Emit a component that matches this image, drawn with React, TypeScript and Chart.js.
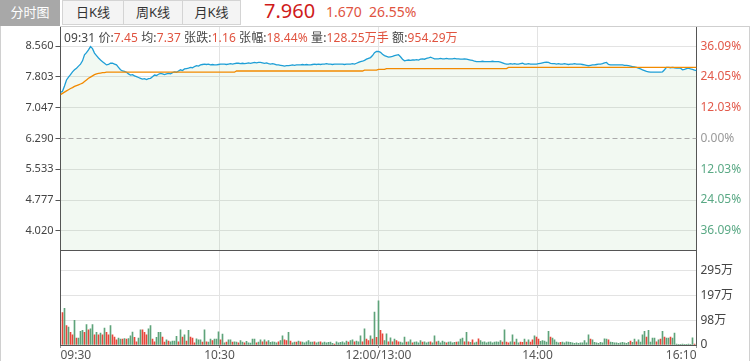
import React, { useEffect, useRef } from "react";
import { Chart, registerables } from "chart.js";

Chart.register(...registerables);

// ---------- data ----------
const PREV_CLOSE = 6.29;
const PRICE_MIN = 3.548;
const PRICE_MAX = 9.032;
const PRICE_TICKS = [4.02, 4.777, 5.533, 6.29, 7.047, 7.803, 8.56];
const PCT_LABELS = ["36.09%", "24.05%", "12.03%", "0.00%", "12.03%", "24.05%", "36.09%"];
const PCT_SIDE = ["down", "down", "down", "flat", "up", "up", "up"];
const TIME_LABELS = ["09:30", "10:30", "12:00/13:00", "14:00", "16:10"];
const VOL_TICKS = [0, 98.3, 196.6, 294.9];
const VOL_LABELS = ["0", "98万", "197万", "295万"];
const VOL_MAX = 372;

const PRICE = [
  7.42, 7.45, 7.58, 7.73, 7.8, 7.86, 7.93, 7.98, 8.02, 8.07, 8.12, 8.2, 8.35, 8.4, 8.47, 8.55, 8.5, 8.39, 8.33, 8.27,
  8.22, 8.18, 8.14, 8.1, 8.11, 8.14, 8.14, 8.12, 8.1, 8.04, 7.98, 7.95, 7.94, 7.92, 7.88, 7.85, 7.86, 7.83, 7.81, 7.79,
  7.77, 7.75, 7.76, 7.74, 7.76, 7.77, 7.81, 7.85, 7.84, 7.87, 7.89, 7.88, 7.86, 7.88, 7.89, 7.88, 7.91, 7.93, 7.92, 7.95,
  7.98, 7.96, 8.0, 8.01, 8.02, 8.04, 8.03, 8.06, 8.08, 8.07, 8.1, 8.11, 8.12, 8.11, 8.12, 8.1, 8.11, 8.1, 8.1, 8.11,
  8.12, 8.12, 8.12, 8.11, 8.12, 8.13, 8.12, 8.13, 8.14, 8.14, 8.13, 8.14, 8.13, 8.14, 8.15, 8.14, 8.15, 8.16, 8.15, 8.16,
  8.16, 8.15, 8.14, 8.15, 8.13, 8.12, 8.13, 8.12, 8.1, 8.1, 8.09, 8.08, 8.07, 8.08, 8.08, 8.09, 8.1, 8.09, 8.1, 8.1,
  8.1, 8.11, 8.1, 8.11, 8.1, 8.1, 8.11, 8.12, 8.11, 8.12, 8.11, 8.12, 8.12, 8.13, 8.12, 8.12, 8.11, 8.12, 8.12, 8.12,
  8.12, 8.12, 8.11, 8.12, 8.12, 8.12, 8.13, 8.12, 8.14, 8.16, 8.18, 8.19, 8.21, 8.24, 8.26, 8.28, 8.33, 8.4, 8.43, 8.43,
  8.41, 8.36, 8.33, 8.31, 8.29, 8.3, 8.31, 8.33, 8.34, 8.35, 8.3, 8.24, 8.2, 8.21, 8.22, 8.21, 8.22, 8.22, 8.23, 8.22,
  8.24, 8.25, 8.24, 8.26, 8.27, 8.29, 8.27, 8.25, 8.25, 8.25, 8.26, 8.25, 8.25, 8.26, 8.25, 8.25, 8.25, 8.26, 8.25, 8.25,
  8.24, 8.24, 8.25, 8.24, 8.23, 8.22, 8.21, 8.19, 8.18, 8.18, 8.18, 8.19, 8.18, 8.18, 8.18, 8.18, 8.19, 8.18, 8.18, 8.18,
  8.17, 8.15, 8.13, 8.12, 8.12, 8.13, 8.12, 8.13, 8.12, 8.12, 8.13, 8.14, 8.12, 8.12, 8.13, 8.12, 8.12, 8.12, 8.12, 8.13,
  8.14, 8.15, 8.16, 8.17, 8.16, 8.14, 8.13, 8.13, 8.12, 8.13, 8.12, 8.12, 8.13, 8.12, 8.11, 8.12, 8.12, 8.13, 8.12, 8.12,
  8.12, 8.11, 8.1, 8.09, 8.08, 8.09, 8.1, 8.1, 8.11, 8.12, 8.12, 8.13, 8.15, 8.16, 8.11, 8.1, 8.1, 8.1, 8.1, 8.1,
  8.1, 8.1, 8.09, 8.09, 8.08, 8.07, 8.06, 8.05, 8.04, 8.02, 8.0, 7.98, 7.96, 7.94, 7.93, 7.92, 7.92, 7.92, 7.92, 7.92,
  7.92, 7.93, 7.98, 8.04, 8.04, 8.03, 8.04, 8.03, 8.02, 8.03, 8.02, 7.98, 7.99, 8.01, 8.02, 8.0, 7.99, 7.97, 7.96,
];

const AVG = [
  7.37, 7.4, 7.43, 7.46, 7.49, 7.52, 7.54, 7.57, 7.59, 7.61, 7.63, 7.65, 7.69, 7.73, 7.77, 7.8, 7.83, 7.86, 7.88, 7.89,
  7.9, 7.91, 7.91, 7.92, 7.92, 7.92, 7.92, 7.92, 7.92, 7.92, 7.92, 7.92, 7.92, 7.92, 7.92, 7.92, 7.92, 7.92, 7.92, 7.92,
  7.92, 7.92, 7.92, 7.92, 7.92, 7.92, 7.92, 7.92, 7.92, 7.92, 7.92, 7.92, 7.92, 7.92, 7.92, 7.92, 7.92, 7.92, 7.92, 7.92,
  7.92, 7.92, 7.92, 7.92, 7.92, 7.92, 7.92, 7.92, 7.92, 7.92, 7.92, 7.92, 7.92, 7.92, 7.92, 7.92, 7.92, 7.92, 7.92, 7.92,
  7.92, 7.92, 7.92, 7.92, 7.92, 7.92, 7.92, 7.92, 7.95, 7.95, 7.95, 7.95, 7.95, 7.95, 7.95, 7.95, 7.95, 7.95, 7.95, 7.95,
  7.95, 7.95, 7.95, 7.95, 7.95, 7.95, 7.95, 7.95, 7.95, 7.95, 7.95, 7.95, 7.95, 7.95, 7.95, 7.95, 7.95, 7.95, 7.95, 7.95,
  7.95, 7.95, 7.95, 7.95, 7.95, 7.95, 7.95, 7.95, 7.95, 7.95, 7.95, 7.95, 7.95, 7.95, 7.95, 7.95, 7.95, 7.95, 7.95, 7.95,
  7.95, 7.95, 7.95, 7.95, 7.95, 7.95, 7.95, 7.95, 7.95, 7.95, 7.95, 7.95, 7.97, 7.97, 7.97, 7.97, 7.97, 7.97, 7.97, 7.99,
  7.99, 7.99, 7.99, 8.01, 8.01, 8.01, 8.01, 8.01, 8.01, 8.01, 8.01, 8.01, 8.01, 8.01, 8.01, 8.01, 8.01, 8.01, 8.01, 8.01,
  8.01, 8.01, 8.01, 8.01, 8.01, 8.01, 8.01, 8.01, 8.01, 8.01, 8.01, 8.01, 8.01, 8.01, 8.01, 8.01, 8.01, 8.01, 8.01, 8.01,
  8.01, 8.01, 8.01, 8.01, 8.01, 8.01, 8.01, 8.01, 8.01, 8.01, 8.01, 8.01, 8.01, 8.01, 8.01, 8.01, 8.01, 8.01, 8.01, 8.01,
  8.01, 8.01, 8.01, 8.01, 8.04, 8.04, 8.04, 8.04, 8.04, 8.04, 8.04, 8.04, 8.04, 8.04, 8.04, 8.04, 8.04, 8.04, 8.04, 8.04,
  8.04, 8.04, 8.04, 8.04, 8.04, 8.04, 8.04, 8.04, 8.04, 8.04, 8.04, 8.04, 8.04, 8.04, 8.04, 8.04, 8.04, 8.04, 8.04, 8.04,
  8.04, 8.04, 8.04, 8.04, 8.04, 8.04, 8.04, 8.04, 8.04, 8.04, 8.04, 8.04, 8.04, 8.04, 8.04, 8.04, 8.04, 8.04, 8.04, 8.04,
  8.04, 8.04, 8.04, 8.04, 8.04, 8.04, 8.04, 8.04, 8.04, 8.04, 8.04, 8.04, 8.04, 8.04, 8.04, 8.04, 8.04, 8.04, 8.04, 8.04,
  8.04, 8.04, 8.04, 8.04, 8.04, 8.04, 8.04, 8.04, 8.04, 8.04, 8.04, 8.04, 8.04, 8.04, 8.04, 8.04, 8.04, 8.04, 8.04,
];

// volume in 万
const VOLUME = [
  0, 128, 145, 77, 71, 50, 40, 98, 27, 27, 54, 58, 50, 81, 60, 64, 81, 40, 50, 40,
  47, 40, 67, 50, 40, 77, 40, 31, 20, 27, 23, 23, 25, 23, 25, 36, 51, 30, 13, 27,
  60, 60, 50, 40, 64, 77, 23, 13, 30, 50, 50, 31, 12, 20, 16, 13, 16, 16, 34, 13,
  60, 31, 40, 16, 58, 31, 27, 9, 24, 20, 20, 12, 60, 13, 12, 23, 17, 23, 23, 52,
  20, 43, 9, 12, 20, 20, 12, 13, 12, 9, 17, 12, 9, 15, 9, 8, 23, 23, 9, 12,
  20, 13, 20, 13, 17, 11, 13, 12, 9, 13, 17, 36, 20, 17, 50, 16, 9, 12, 12, 16,
  13, 12, 9, 13, 17, 12, 12, 13, 9, 12, 13, 9, 12, 9, 11, 12, 7, 4, 13, 9,
  11, 13, 9, 16, 12, 17, 20, 13, 16, 13, 36, 13, 64, 23, 17, 36, 23, 130, 30, 175,
  58, 44, 17, 44, 13, 28, 13, 23, 17, 13, 12, 9, 31, 12, 13, 20, 9, 12, 13, 9,
  17, 12, 13, 9, 12, 13, 9, 36, 13, 16, 9, 16, 12, 9, 12, 13, 9, 11, 12, 13,
  23, 27, 13, 50, 13, 11, 20, 9, 12, 24, 17, 12, 13, 9, 12, 13, 9, 12, 13, 12,
  17, 12, 60, 12, 9, 13, 40, 12, 23, 9, 12, 11, 23, 12, 20, 12, 20, 36, 31, 23,
  15, 17, 16, 12, 54, 31, 27, 20, 12, 9, 11, 12, 9, 13, 12, 11, 9, 7, 9, 7,
  9, 9, 17, 9, 40, 23, 20, 11, 9, 7, 11, 9, 24, 23, 20, 12, 11, 9, 9, 7,
  9, 11, 9, 7, 11, 16, 11, 23, 13, 20, 12, 40, 54, 31, 58, 12, 27, 27, 13, 20,
  23, 54, 31, 27, 27, 31, 27, 47, 4, 3, 3, 4, 3, 3, 4, 3, 28, 4, 3,
];

// r = up (red), g = down (green)
const VOL_SIDE = (
  "grgrgrrgrgggrgrggrgr" +
  "grgrrgrrrggrgrgggrrg" +
  "grrrggrrgggrrgrggggr" +
  "grgrgrrrgggrgrggrggg" +
  "rggrggrggrggrgggggrg" +
  "grgrgggggrggrrgrggrg" +
  "rggggggrggrggggggrgg" +
  "ggggrggrgggrgrrgrgrg" +
  "rrggrgrgrrgggrggrggg" +
  "grgggrggrggggrggggrg" +
  "ggrgrgrggrgggggggggg" +
  "grgrrggrggrrgrgrrgrr" +
  "gggggrggggrggggggggg" +
  "gggggrggggggggrggggg" +
  "gggggrggrggggrggggrg" +
  "rgrggrgggggggggggrg"
).split("");

// ---------- styles ----------
const FONT = "'Noto Sans', 'Noto Sans CJK SC', sans-serif";
const AXIS_DARK = "#555555";
const GRID = "#e3e3e3";
const RED_BAR = "#e8453a";
const GREEN_BAR = "#5ea37a";
const PRICE_COLOR = "#1f9fd6";
const AVG_COLOR = "#f28a00";

export default function App() {
  const priceRef = useRef<HTMLCanvasElement | null>(null);
  const volRef = useRef<HTMLCanvasElement | null>(null);

  useEffect(() => {
    const n = PRICE.length;
    const xMax = n - 1;
    const lastT = TIME_LABELS.length - 1;
    const timeTicks = () => TIME_LABELS.map((_, k) => ({ value: (k * xMax) / lastT }));
    const xGridColor = (c: any) => (c.index === 0 || c.index === lastT ? "rgba(0,0,0,0)" : GRID);

    const priceChart = new Chart(priceRef.current as HTMLCanvasElement, {
      type: "line",
      data: {
        datasets: [
          {
            label: "prev",
            data: [
              { x: 0, y: PREV_CLOSE },
              { x: xMax, y: PREV_CLOSE },
            ],
            borderColor: "#aaaaaa",
            borderWidth: 1,
            borderDash: [5, 3],
            pointRadius: 0,
            fill: false,
            order: -1,
          },
          {
            label: "avg",
            data: AVG.map((v, i) => ({ x: i, y: v })),
            borderColor: AVG_COLOR,
            borderWidth: 1.3,
            pointRadius: 0,
            fill: false,
            order: 0,
          },
          {
            label: "price",
            data: PRICE.map((v, i) => ({ x: i, y: v })),
            borderColor: PRICE_COLOR,
            borderWidth: 1.3,
            pointRadius: 0,
            fill: "start",
            backgroundColor: "rgba(110,185,110,0.09)",
            order: 1,
          },
        ],
      },
      options: {
        responsive: false,
        animation: false,
        devicePixelRatio: 1,
        events: [],
        layout: { padding: { top: 27, bottom: 111, left: 0, right: 0 } },
        plugins: { legend: { display: false }, tooltip: { enabled: false } },
        scales: {
          x: {
            type: "linear",
            min: 0,
            max: xMax,
            offset: false,
            afterBuildTicks: (s: any) => {
              s.ticks = timeTicks();
            },
            afterFit: (s: any) => {
              s.height = 0;
            },
            ticks: { display: false },
            grid: { color: xGridColor, drawTicks: false },
            border: { color: AXIS_DARK },
          },
          y: {
            type: "linear",
            position: "left",
            min: PRICE_MIN,
            max: PRICE_MAX,
            afterBuildTicks: (s: any) => {
              s.ticks = PRICE_TICKS.map((v) => ({ value: v }));
            },
            afterFit: (s: any) => {
              s.width = 60.5;
            },
            ticks: {
              autoSkip: false,
              callback: (v: any) => Number(v).toFixed(3),
              color: "#444444",
              font: { family: FONT, size: 11 },
              padding: 2,
            },
            grid: {
              color: (c: any) =>
                c.tick && Math.abs(c.tick.value - PREV_CLOSE) < 1e-6 ? "rgba(0,0,0,0)" : GRID,
              tickColor: AXIS_DARK,
              tickLength: 5,
            },
            border: { color: AXIS_DARK },
          },
          yr: {
            type: "linear",
            position: "right",
            min: PRICE_MIN,
            max: PRICE_MAX,
            afterBuildTicks: (s: any) => {
              s.ticks = PRICE_TICKS.map((v) => ({ value: v }));
            },
            afterFit: (s: any) => {
              s.width = 54.5;
            },
            ticks: {
              autoSkip: false,
              callback: (_v: any, i: number) => PCT_LABELS[i],
              color: (c: any) => {
                const side = PCT_SIDE[c.index];
                return side === "up" ? "#e2594a" : side === "down" ? "#5aa985" : "#999999";
              },
              font: { family: FONT, size: 12 },
              padding: 4,
            },
            grid: { drawOnChartArea: false, drawTicks: false },
            border: { color: AXIS_DARK },
          },
        },
      },
    } as any);

    const volChart = new Chart(volRef.current as HTMLCanvasElement, {
      type: "bar",
      data: {
        datasets: [
          {
            label: "vol",
            data: VOLUME.map((v, i) => ({ x: i, y: v })),
            backgroundColor: VOLUME.map((_, i) => (VOL_SIDE[i] === "r" ? RED_BAR : GREEN_BAR)),
            borderWidth: 0,
            barThickness: 1,
            xAxisID: "x",
            yAxisID: "yv",
          },
        ],
      },
      options: {
        responsive: false,
        animation: false,
        devicePixelRatio: 1,
        events: [],
        layout: { padding: { top: 251, bottom: 0, left: 0, right: 0 } },
        plugins: { legend: { display: false }, tooltip: { enabled: false } },
        scales: {
          x: {
            type: "linear",
            min: 0,
            max: xMax,
            offset: false,
            afterBuildTicks: (s: any) => {
              s.ticks = timeTicks();
            },
            afterFit: (s: any) => {
              s.height = 16;
            },
            ticks: {
              autoSkip: false,
              maxRotation: 0,
              minRotation: 0,
              align: "inner",
              callback: (_v: any, i: number) => TIME_LABELS[i],
              color: "#555555",
              font: { family: FONT, size: 12 },
              padding: 0,
            },
            grid: { offset: false, color: xGridColor, tickColor: "#999999", tickLength: 3 },
            border: { color: AXIS_DARK },
          },
          yl: {
            type: "linear",
            position: "left",
            min: 0,
            max: VOL_MAX,
            afterFit: (s: any) => {
              s.width = 60.5;
            },
            ticks: { display: false },
            grid: { drawOnChartArea: false, drawTicks: false },
            border: { color: AXIS_DARK },
          },
          yv: {
            type: "linear",
            position: "right",
            min: 0,
            max: VOL_MAX,
            afterBuildTicks: (s: any) => {
              s.ticks = VOL_TICKS.map((v) => ({ value: v }));
            },
            afterFit: (s: any) => {
              s.width = 54.5;
            },
            ticks: {
              autoSkip: false,
              callback: (_v: any, i: number) => VOL_LABELS[i],
              color: "#444444",
              font: { family: FONT, size: 12 },
              padding: 4,
            },
            grid: {
              color: (c: any) => (c.index === 0 ? "rgba(0,0,0,0)" : GRID),
              drawTicks: false,
            },
            border: { color: AXIS_DARK },
          },
        },
      },
    } as any);

    return () => {
      priceChart.destroy();
      volChart.destroy();
    };
  }, []);

  const red = "#e0533f";
  const tab = (left: number, width: number, text: string, last = false) => (
    <div
      style={{
        position: "absolute",
        left,
        top: 0,
        width,
        height: 25,
        boxSizing: "border-box",
        borderTop: "1px solid #d4d4d4",
        borderBottom: "1px solid #d4d4d4",
        borderLeft: "1px solid #d4d4d4",
        borderRight: last ? "1px solid #d4d4d4" : "none",
        background: "#f4f4f4",
        color: "#333",
        fontSize: 13,
        lineHeight: "23px",
        textAlign: "center",
      }}
    >
      {text}
    </div>
  );

  return (
    <div
      style={{
        position: "absolute",
        left: 0,
        top: 0,
        width: 751,
        height: 361,
        overflow: "hidden",
        background: "#fff",
        fontFamily: FONT,
      }}
    >
      {/* tabs */}
      <div
        style={{
          position: "absolute",
          left: 0,
          top: 0,
          width: 60,
          height: 26,
          background: "#a8a8a8",
          color: "#fff",
          fontSize: 13,
          lineHeight: "25px",
          textAlign: "center",
        }}
      >
        分时图
      </div>
      {tab(62, 61, "日K线")}
      {tab(123, 59, "周K线")}
      {tab(182, 59, "月K线", true)}

      {/* quote */}
      <div
        style={{
          position: "absolute",
          left: 264,
          top: -1,
          fontSize: 20,
          lineHeight: "24px",
          color: "#cf1b1b",
          whiteSpace: "nowrap",
        }}
      >
        7.960
      </div>
      <div
        style={{
          position: "absolute",
          left: 326,
          top: 0,
          fontSize: 14,
          lineHeight: "24px",
          color: red,
          whiteSpace: "nowrap",
        }}
      >
        1.670&nbsp;&nbsp;26.55%
      </div>

      {/* frame */}
      <div style={{ position: "absolute", left: 60, top: 26, width: 690, height: 1, background: "#cfcfcf" }} />
      <div style={{ position: "absolute", left: 0, top: 26, width: 1, height: 335, background: "#d0d0d0" }} />
      <div style={{ position: "absolute", left: 749, top: 26, width: 1, height: 335, background: "#d0d0d0" }} />

      <canvas
        ref={priceRef}
        width={751}
        height={361}
        style={{ position: "absolute", left: 0, top: 0, width: 751, height: 361 }}
      />
      <canvas
        ref={volRef}
        width={751}
        height={361}
        style={{ position: "absolute", left: 0, top: 0, width: 751, height: 361 }}
      />

      {/* info line */}
      <div
        style={{
          position: "absolute",
          left: 64,
          top: 30,
          fontSize: 12,
          lineHeight: "16px",
          color: "#444",
          whiteSpace: "nowrap",
          letterSpacing: "0.1px",
        }}
      >
        09:31 价:<span style={{ color: red }}>7.45</span> 均:<span style={{ color: red }}>7.37</span> 张跌:
        <span style={{ color: red }}>1.16</span> 张幅:<span style={{ color: red }}>18.44%</span> 量:
        <span style={{ color: red }}>128.25万手</span> 额:<span style={{ color: red }}>954.29万</span>
      </div>
    </div>
  );
}
